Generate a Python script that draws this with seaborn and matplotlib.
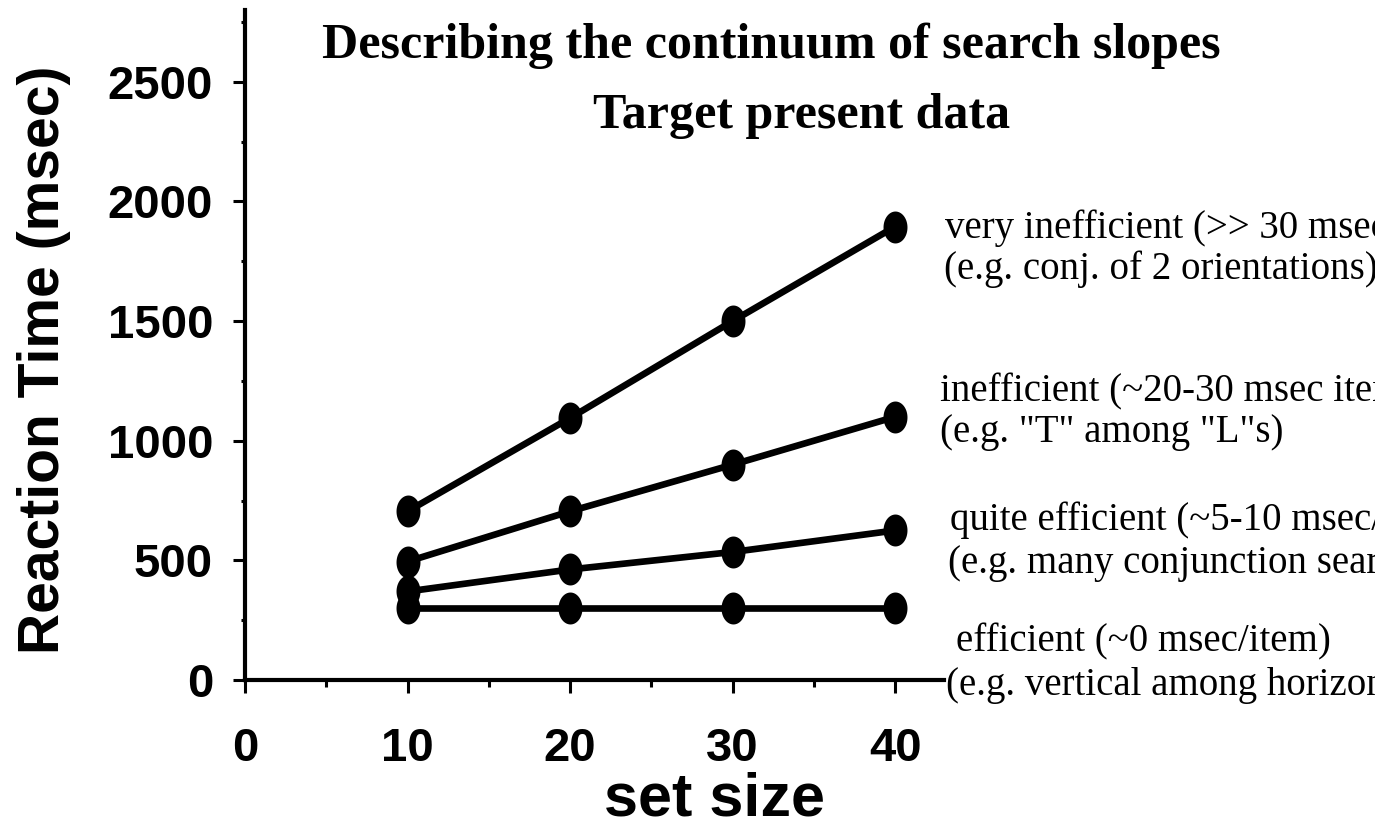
import numpy as np
import pandas as pd
import matplotlib
matplotlib.use("Agg")
import matplotlib.pyplot as plt
import seaborn as sns

# data
set_sizes = [10, 20, 30, 40]
rt_very_inefficient = [705, 1095, 1500, 1895]
rt_inefficient = [495, 705, 900, 1100]
rt_quite_efficient = [370, 462, 535, 625]
rt_efficient = [300, 300, 300, 300]

labels_top = ["very inefficient (>> 30 msec/item)",
              "inefficient (~20-30 msec item)",
              "quite efficient (~5-10 msec/item)",
              "efficient (~0 msec/item)"]
labels_bottom = ["(e.g. conj. of 2 orientations)",
                 "(e.g. \"T\" among \"L\"s)",
                 "(e.g. many conjunction searches)",
                 "(e.g. vertical among horizontal)"]

series = [rt_very_inefficient, rt_inefficient, rt_quite_efficient, rt_efficient]

sns.set_style("ticks")
plt.rcParams['font.family'] = ['Liberation Sans', 'DejaVu Sans']
plt.rcParams['text.color'] = 'black'
plt.rcParams['axes.edgecolor'] = 'black'
plt.rcParams['xtick.color'] = 'black'
plt.rcParams['ytick.color'] = 'black'

serif = ['Liberation Serif', 'DejaVu Serif']

fig = plt.figure(figsize=(13.75, 8.31), dpi=100)
ax = fig.add_axes([245 / 1375, 1 - 680 / 831, (944 - 245) / 1375, 670 / 831])

# tall ellipse marker
t = np.linspace(0, 2 * np.pi, 80)
ellipse = np.column_stack([0.75 * np.cos(t), np.sin(t)])

for rt in series:
    sns.lineplot(x=set_sizes, y=rt, color='black', lw=4.8, marker=ellipse,
                 markersize=23, markeredgewidth=0, ax=ax)

ax.set_xlim(0, 43)
ax.set_ylim(0, 2800)
ax.set_xticks([0, 10, 20, 30, 40])
ax.set_xticks([5, 15, 25, 35], minor=True)
ax.set_yticks([0, 500, 1000, 1500, 2000, 2500])
ax.set_yticks([250, 750, 1250, 1750, 2250, 2750], minor=True)

sns.despine(ax=ax)
for s in ['left', 'bottom']:
    ax.spines[s].set_linewidth(3)
    ax.spines[s].set_color('black')
ax.tick_params(axis='both', which='major', length=9, width=2.2, direction='out',
               colors='black')
ax.tick_params(axis='y', which='major', pad=14)
ax.tick_params(axis='x', which='major', pad=25)
ax.tick_params(axis='y', which='minor', length=3, width=2.2, colors='black')
ax.tick_params(axis='x', which='minor', length=5, width=2.2, colors='black')
for lab in ax.get_xticklabels() + ax.get_yticklabels():
    lab.set_fontweight('bold')
    lab.set_fontsize(34)

ax.set_xlabel("")
ax.set_ylabel("")
fig.text(715 / 1375, 1 - 800 / 831, "set size", fontweight='bold',
         fontsize=44, ha='center', va='center')
fig.text(44 / 1375, 1 - 360 / 831, "Reaction Time (msec)",
         fontweight='bold', fontsize=41, rotation=90, ha='center', va='center')

fig.text(771 / 1375, 1 - 46 / 831, "Describing the continuum of search slopes",
         family=serif, fontweight='bold', fontsize=36, ha='center', va='center')
fig.text(802 / 1375, 1 - 116 / 831, "Target present data",
         family=serif, fontweight='bold', fontsize=36, ha='center', va='center')

# annotations on the right (baseline positions in pixels)
top_pos = [(945, 238), (940, 401), (950, 530), (956, 651)]
bot_pos = [(944, 279), (940, 442), (948, 573), (946, 695)]
for txt, (x, y) in zip(labels_top, top_pos):
    fig.text(x / 1375, 1 - y / 831, txt, family=serif, fontsize=28, va='baseline')
for txt, (x, y) in zip(labels_bottom, bot_pos):
    fig.text(x / 1375, 1 - y / 831, txt, family=serif, fontsize=28, va='baseline')

fig.savefig("out.png", dpi=100)
